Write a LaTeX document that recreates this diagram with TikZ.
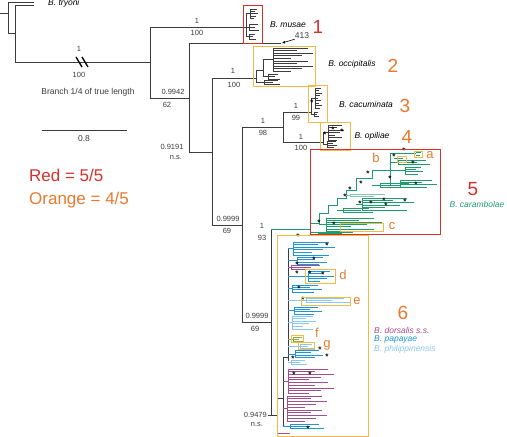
\documentclass[tikz,border=0pt]{standalone}
\usepackage{fontspec}
\setmainfont{Liberation Sans}
\usetikzlibrary{arrows.meta}
\definecolor{boxred}{RGB}{214,48,44}
\definecolor{boxorange}{RGB}{242,186,70}
\definecolor{txtorange}{RGB}{232,122,46}
\definecolor{cargreen}{RGB}{30,156,110}
\definecolor{dorpurple}{RGB}{160,80,140}
\definecolor{papblue}{RGB}{30,150,210}
\definecolor{philblue}{RGB}{140,200,235}
\definecolor{fgolive}{RGB}{150,170,60}
\definecolor{treegray}{RGB}{60,60,60}
\tikzset{
  br/.style={draw=treegray, line width=0.9pt},
  lf/.style={line width=0.7pt},
  supp/.style={font=\fontsize{7.5}{8}\selectfont, text=treegray, inner sep=0pt},
  spname/.style={font=\fontsize{8.5}{10}\selectfont\itshape, inner sep=0pt},
  bignum/.style={font=\fontsize{19}{20}\selectfont, inner sep=0pt},
  sublet/.style={font=\fontsize{13}{14}\selectfont, text=txtorange, inner sep=0pt},
  redbox/.style={draw=boxred, line width=1pt},
  orbox/.style={draw=boxorange, line width=1pt},
  star/.style={font=\fontsize{8}{8}\selectfont\bfseries, inner sep=0pt, yshift=-1.5pt},
}
% parent x, x, top y, leaves, gap, length, colour
\newcommand\leafcomb[7]{%
  \draw[#7, lf] (#1,{#3+(#4-1)*#5/2}) -- (#2,{#3+(#4-1)*#5/2});
  \draw[#7, lf] (#2,#3) -- ++(0,{(#4-1)*#5});
  \foreach \k in {1,...,#4}{
    \draw[#7, lf] (#2,{#3+(\k-1)*#5}) -- ++({#6*(0.45+0.55*mod(\k*3,5)/4)},0);
  }
}
\begin{document}
\begin{tikzpicture}[x=1pt,y=-1pt]
\useasboundingbox[fill=white] (0,0) rectangle (507,437);

% outgroup and the cut branch
\draw[br] (0,13) -- (8,13);
\draw[br] (8,2) -- (8,33) -- (15,33);
\draw[br] (8,2) -- (34,2);
\draw[br] (15,5) -- (15,62);
\draw[br] (15,5) -- (34,5);
\draw[br] (15,62) -- (150,62);
\draw[line width=1.3pt] (76,57) -- (82,67) (82,57) -- (88,67);
\node[spname, anchor=west] (tryoni) at (48,3) {B. tryoni};
\node[supp] (pp0) at (79,49) {1};
\node[supp] (bs0) at (79,75) {100};
\node[supp, font=\fontsize{8.5}{10}\selectfont] (brk) at (88,92) {Branch 1/4 of true length};

% scale bar and key
\draw[br] (42,130) -- (127,130);
\node[supp, font=\fontsize{8.5}{10}\selectfont] (scl) at (84,139) {0.8};
\node[anchor=west, inner sep=0pt, text=boxred, font=\fontsize{17}{18}\selectfont] (redkey) at (29,175) {Red = 5/5};
\node[anchor=west, inner sep=0pt, text=txtorange, font=\fontsize{17}{18}\selectfont] (orkey) at (29,200) {Orange = 4/5};

% backbone
\draw[br] (150,27) -- (150,98);
\draw[br] (150,27) -- (243,27);
\draw[br] (150,98) -- (189,98);
\node[supp] (pp1) at (197,21) {1};
\node[supp] (bs1) at (197,33) {100};
\node[supp] (pp2) at (173,92) {0.9942};
\node[supp] (bs2) at (167,105) {62};
\draw[br] (189,43) -- (189,152);
\draw[br] (189,43) -- (281,43);
\draw[br] (189,152) -- (212,152);
\node[supp] (pp3) at (172,147) {0.9191};
\node[supp] (bs3) at (176,158) {n.s.};
\draw[br] (212,78) -- (212,225);
\draw[br] (212,78) -- (256,78);
\node[supp] (pp4) at (233,71) {1};
\node[supp] (bs4) at (234,85) {100};
\draw[br] (212,225) -- (242,225);
\node[supp] (pp5) at (228,219) {0.9999};
\node[supp] (bs5) at (227,231) {69};
\draw[br] (242,127) -- (242,322);
\draw[br] (242,127) -- (283,127);
\node[supp] (pp6) at (263,121) {1};
\node[supp] (bs6) at (263,133) {98};
\draw[br] (242,322) -- (271,322);
\node[supp] (pp7) at (257,316) {0.9999};
\node[supp] (bs7) at (255,329) {69};
\draw[br] (283,112) -- (283,142);
\draw[br] (283,112) -- (311,112);
\node[supp] (pp8) at (296,106) {1};
\node[supp] (bs8) at (296,118) {99};
\draw[br] (283,142) -- (323,142);
\node[supp] (pp9) at (301,137) {1};
\node[supp] (bs9) at (301,148) {100};
\draw[br] (271,229) -- (271,415);
\draw[cargreen, lf] (271,229) -- (310,229);
\node[supp] (pp10) at (262,226) {1};
\node[supp] (bs10) at (262,238) {93};
\draw[br] (268,415) -- (277,415);
\node[supp, anchor=east] (pp11) at (267,415) {0.9479};
\node[supp] (bs11) at (257,425) {n.s.};

% 413
\node[supp, font=\fontsize{8.5}{10}\selectfont] (n413) at (302,36) {413};
\coordinate (tip413) at (282,43);
\draw[-{Latex[length=3pt,width=3pt]}, line width=0.6pt] (n413.south west) -- (tip413);

% 1 musae
\draw[br] (243,27) -- (246,27);
\draw[br] (246,13.8) -- (246,36.5);
\leafcomb{246}{250}{9}{5}{2.4}{8}{treegray}
\leafcomb{246}{249}{24}{3}{3}{10}{treegray}
\leafcomb{246}{249}{34}{3}{2.5}{7}{treegray}
\draw[redbox] (243,5) rectangle (262,43);
\node[spname] (musae) at (288,25) {B. musae};
\node[bignum, text=boxred] (g1) at (318,27) {1};

% 2 occipitalis
\draw[br] (256,70) -- (256,82);
\draw[br] (263,59.7) -- (263,76.5);
\draw[br] (256,70) -- (263,70);
\leafcomb{263}{273}{48}{10}{2.6}{40}{treegray}
\leafcomb{263}{268}{74}{3}{2.5}{12}{treegray}
\leafcomb{256}{264}{80}{3}{2}{16}{treegray}
\draw[orbox] (253,46) rectangle (315,86);
\node[spname] (occi) at (352,64) {B. occipitalis};
\node[bignum, text=txtorange] (g2) at (393,66) {2};

% 3 cacuminata
\draw[br] (311,98) -- (311,115);
\leafcomb{311}{315}{88}{9}{2.5}{7}{treegray}
\leafcomb{311}{314}{112}{3}{2.2}{5}{treegray}
\draw[orbox] (308,85) rectangle (327.5,122);
\node[star] (st1) at (312,101) {*};
\node[spname] (cacu) at (366,104) {B. cacuminata};
\node[bignum, text=txtorange] (g3) at (405,106) {3};

% 4 opiliae
\draw[br] (323,132.5) -- (323,144.3);
\leafcomb{323}{328}{125}{7}{2.5}{16}{treegray}
\leafcomb{323}{327}{141}{4}{2.2}{10}{treegray}
\draw[orbox] (320,122) rectangle (350,150);
\foreach \sx/\sy in {325/133, 333/128, 342/130}
  \node[star] at (\sx,\sy) {*};
\node[spname] (opil) at (372,136) {B. opiliae};
\node[bignum, text=txtorange] (g4) at (407,137) {4};

% 5 carambolae
\draw[cargreen, lf] (310,234) |- (319,223) |- (328,213) |- (337,205) |- (346,198) |- (356,190) |- (372,178) |- (390,170);
\draw[cargreen, lf] (390,153) -- (390,186);
\leafcomb{310}{318}{232}{2}{1.5}{40}{cargreen}
\leafcomb{319}{326}{218}{7}{2.2}{56}{cargreen}
\leafcomb{337}{343}{208}{3}{2}{30}{cargreen}
\leafcomb{346}{350}{194}{2}{2}{40}{cargreen!55}
\leafcomb{356}{362}{198}{6}{2.4}{52}{cargreen}
\leafcomb{372}{380}{183}{3}{2}{34}{cargreen}
\leafcomb{390}{400}{180}{4}{2.4}{37}{cargreen}
\leafcomb{390}{405}{167}{4}{2.4}{18}{cargreen}
\leafcomb{390}{398}{160}{3}{2}{32}{cargreen}
\draw[cargreen, lf] (390,153) -- (416,153) (416,152) -- (421,152) (416,155) -- (420,155);
\draw[cargreen, lf] (394,158) -- (403,158);
\foreach \sx/\sy in {319/221, 334/223, 345/195, 350/188, 361/182, 360/202, 371/202, 384/199,
  386/204, 405/200, 390/177, 413/162, 416/183, 394/155, 368/172, 404/149}
  \node[star] at (\sx,\sy) {*};
\draw[orbox] (414,151) rectangle (422,157);
\draw[orbox] (397,156) rectangle (406,162);
\draw[orbox] (340,223) rectangle (383,231);
\draw[redbox] (310,149) rectangle (440,234);
\node[sublet] (la) at (430,155) {a};
\node[sublet] (lb) at (376,158) {b};
\node[sublet] (lc) at (392,226) {c};
\node[bignum, text=boxred] (g5) at (473,189) {5};
\node[spname, text=cargreen] (cara) at (477,204) {B. carambolae};

% 6 dorsalis complex
\draw[br] (277,398) -- (277,433);
\draw[dorpurple, lf] (277,433) -- (290,433);
\draw[br] (277,398) -- (283,398);
\draw[br] (283,357) -- (283,426);
\draw[br] (283,357) -- (288,357);
\draw[br] (288,248) -- (288,361);
\leafcomb{288}{293}{242}{6}{2.6}{42}{papblue}
\leafcomb{288}{297}{257}{4}{2.5}{30}{papblue}
\leafcomb{288}{291}{265}{3}{2.2}{34}{dorpurple}
\leafcomb{288}{308}{271}{5}{2.6}{26}{papblue}
\leafcomb{288}{292}{285}{4}{2.4}{30}{papblue}
\leafcomb{288}{306}{298}{3}{2.4}{44}{philblue}
\leafcomb{288}{294}{307}{4}{2.4}{28}{papblue}
\leafcomb{288}{292}{316}{6}{2.6}{24}{philblue}
\leafcomb{288}{293}{337}{3}{2}{10}{fgolive}
\leafcomb{288}{300}{344}{3}{2}{14}{philblue}
\leafcomb{288}{295}{350}{4}{2.6}{28}{papblue}
\leafcomb{288}{291}{360}{3}{2.4}{16}{philblue}
\leafcomb{283}{288}{369}{10}{2.7}{46}{dorpurple}
\leafcomb{283}{287}{396}{10}{2.8}{40}{dorpurple}
\leafcomb{283}{290}{424}{3}{2.2}{34}{papblue}
\foreach \sx/\sy in {298/235, 327/244, 314/258, 297/263, 297/272, 310/272, 323/273, 299/287,
  303/298, 320/348, 327/355, 293/357, 294/373, 310/373, 308/427}
  \node[star] at (\sx,\sy) {*};
\draw[orbox] (305,269) rectangle (335,283);
\draw[orbox] (301,297) rectangle (350,305);
\draw[orbox] (291,335) rectangle (303,342);
\draw[orbox] (298,342) rectangle (314,349);
\draw[orbox] (277,235) rectangle (368,436);
\node[sublet] (ld) at (343,275) {d};
\node[sublet] (le) at (357,301) {e};
\node[sublet] (lf) at (317,333) {f};
\node[sublet] (lg) at (327,345) {g};
\node[bignum, text=txtorange] (g6) at (403,313) {6};
\node[spname, anchor=west, text=dorpurple] (dors) at (374,330) {B. dorsalis s.s.};
\node[spname, anchor=west, text=papblue] (papa) at (374,339) {B. papayae};
\node[spname, anchor=west, text=philblue] (phil) at (374,349) {B. philippinensis};
\end{tikzpicture}
\end{document}
